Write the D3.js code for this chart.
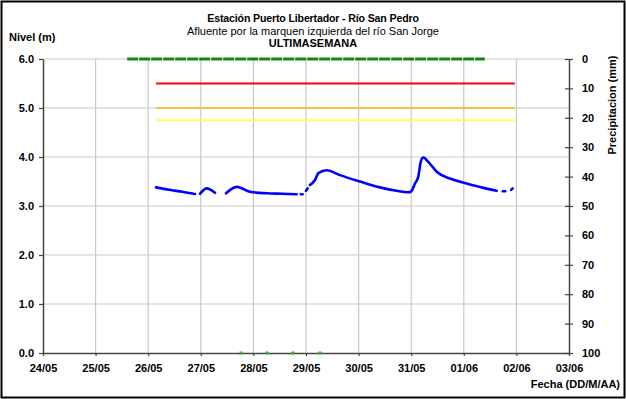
<!DOCTYPE html>
<html><head><meta charset="utf-8">
<script src="https://cdn.jsdelivr.net/npm/d3@7"></script>
<style>
body{margin:0;background:#fff;}
svg{display:block;font-family:"Liberation Sans",Arial,sans-serif;}
</style></head><body>
<script>
// ---- data ----
const dateLabels = ["24/05","25/05","26/05","27/05","28/05","29/05","30/05","31/05","01/06","02/06","03/06"];
const levelTicks = [0,1,2,3,4,5,6];
const precipTicks = [0,10,20,30,40,50,60,70,80,90,100];
// level series: day offset from 24/05 00:00, value in m (null = gap)
const levelDays = [2.148,2.40,2.65,2.89,null,2.985,3.112,3.27,null,3.479,3.683,3.935,4.253,4.55,4.823,null,4.90,4.937,null,5.00,5.03,null,5.076,5.171,5.234,5.394,5.646,6.027,6.407,6.724,6.945,7.00,7.072,7.135,7.181,7.23,7.325,7.485,7.738,8.055,8.371,8.625,null,8.74,8.79,null,8.90,8.93];
const levelVals = [3.38,3.33,3.29,3.245,null,3.25,3.36,3.27,null,3.26,3.39,3.29,3.26,3.25,3.24,null,3.24,3.24,null,3.31,3.36,null,3.43,3.53,3.67,3.73,3.63,3.50,3.38,3.31,3.28,3.30,3.46,3.60,3.90,3.99,3.90,3.70,3.56,3.46,3.37,3.31,null,3.30,3.30,null,3.33,3.36];
// thresholds (m)
const thresholdNames = ["roja","naranja","amarilla"];
const thresholdVals = [5.5,5.0,4.75];
const thresholdColors = ["#ff0000","#f7c040","#ffff50"];
const thresholdStart = 2.15, thresholdEnd = 8.97;
// precipitation (mm), day offsets
const precipDays = [1.60,1.85,2.10,2.35,2.60,2.85,3.10,3.35,3.60,3.85,4.10,4.35,4.60,4.85,5.10,5.35,5.60,5.85,6.10,6.35,6.60,6.85,7.10,7.35,7.60,7.85,8.10,8.40];
const precipVals = [0,0,0,0,0,0,0,0,0,0,0,0,0,0,0,0,0,0,0,0,0,0,0,0,0,0,0,0];
// green markers at level 0
const zeroDays = [3.764,4.259,4.753,5.266];
const zeroVals = [0,0,0,0];

// ---- layout ----
const W=626,H=399;
const L=43,R=569,T=59,B=353;
const svg=d3.select("body").append("svg").attr("width",W).attr("height",H);
svg.append("rect").attr("x",1.5).attr("y",1.5).attr("width",W-3).attr("height",H-3)
  .attr("fill","#fff").attr("stroke","#000").attr("stroke-width",2);

const x=d3.scaleLinear().domain([0,10]).range([L,R]);
const y=d3.scaleLinear().domain([0,6]).range([B,T]);
const y2=d3.scaleLinear().domain([0,100]).range([T,B]);

// gridlines
const g=svg.append("g");
g.selectAll(".vg").data(d3.range(1,10)).join("line")
  .attr("x1",d=>x(d)).attr("x2",d=>x(d)).attr("y1",T).attr("y2",B)
  .attr("stroke","#c8c8c8").attr("stroke-width",1.2);
g.selectAll(".hg").data(levelTicks.slice(1)).join("line")
  .attr("x1",L).attr("x2",R).attr("y1",d=>y(d)).attr("y2",d=>y(d))
  .attr("stroke","#c8c8c8").attr("stroke-width",1.2);

// axes
const fontSize=11;
const ax=svg.append("g").attr("transform",`translate(0,${B})`)
  .call(d3.axisBottom(x).tickValues(d3.range(0,11)).tickFormat(i=>dateLabels[i]).tickSize(3).tickSizeOuter(0).tickPadding(8));
const ay=svg.append("g").attr("transform",`translate(${L},0)`)
  .call(d3.axisLeft(y).tickValues(levelTicks).tickFormat(d3.format(".1f")).tickSize(4).tickSizeOuter(0).tickPadding(5));
const ay2=svg.append("g").attr("transform",`translate(${R},0)`)
  .call(d3.axisRight(y2).tickValues(precipTicks).tickSize(4).tickSizeOuter(0).tickPadding(9));
ay2.selectAll(".tick line").attr("x1",-4);
[ax,ay,ay2].forEach(a=>{
  a.select(".domain").attr("stroke","#444").attr("stroke-width",1.5);
  a.selectAll(".tick line").attr("stroke","#444").attr("stroke-width",1.2);
  a.selectAll("text").attr("font-size",fontSize).attr("font-weight","bold").attr("fill","#000")
    .attr("font-family","'Liberation Sans',Arial,sans-serif");
});

// thresholds
svg.selectAll(".thr").data(thresholdVals).join("line")
  .attr("x1",x(thresholdStart)).attr("x2",x(thresholdEnd))
  .attr("y1",d=>y(d)).attr("y2",d=>y(d))
  .attr("stroke",(d,i)=>thresholdColors[i]).attr("stroke-width",2);

// precipitation at zero (top)
const pData=precipDays.map((d,i)=>[d,precipVals[i]]);
svg.append("path").datum(pData)
  .attr("d",d3.line().x(d=>x(d[0])).y(d=>y2(d[1])))
  .attr("fill","none").attr("stroke","#118811").attr("stroke-width",3)
  .attr("stroke-dasharray","11,1");

// level series
const lData=levelDays.map((d,i)=>[d,levelVals[i]]);
svg.append("path").datum(lData)
  .attr("d",d3.line().defined(d=>d[0]!==null&&d[1]!==null).x(d=>x(d[0])).y(d=>y(d[1])).curve(d3.curveMonotoneX))
  .attr("fill","none").attr("stroke","#0000ff").attr("stroke-width",2.6)
  .attr("stroke-linecap","round").attr("stroke-linejoin","round");

// green markers at zero
svg.selectAll(".zm").data(zeroDays).join("rect")
  .attr("x",d=>x(d)-1.5).attr("y",(d,i)=>y(zeroVals[i])-1.5).attr("width",3).attr("height",3)
  .attr("fill","#22bb22");

// titles
const tf="'Liberation Sans',Arial,sans-serif";
svg.append("text").attr("x",313).attr("y",22).attr("text-anchor","middle").attr("font-size",10.6).attr("letter-spacing",-0.15).attr("font-weight","bold").attr("font-family",tf).text("Estación Puerto Libertador - Río San Pedro");
svg.append("text").attr("x",313).attr("y",35).attr("text-anchor","middle").attr("font-size",11).attr("font-family",tf).text("Afluente por la marquen izquierda del río San Jorge");
svg.append("text").attr("x",313).attr("y",47).attr("text-anchor","middle").attr("font-size",11).attr("font-weight","bold").attr("font-family",tf).text("ULTIMASEMANA");
svg.append("text").attr("x",9).attr("y",41).attr("font-size",11).attr("font-weight","bold").attr("font-family",tf).text("Nivel (m)");
svg.append("text").attr("transform","translate(616,105) rotate(-90)").attr("text-anchor","middle").attr("font-size",11).attr("font-weight","bold").attr("font-family",tf).text("Precipitacion (mm)");
svg.append("text").attr("x",620).attr("y",388).attr("text-anchor","end").attr("font-size",11).attr("font-weight","bold").attr("font-family",tf).text("Fecha (DD/M/AA)");
</script>
</body></html>
